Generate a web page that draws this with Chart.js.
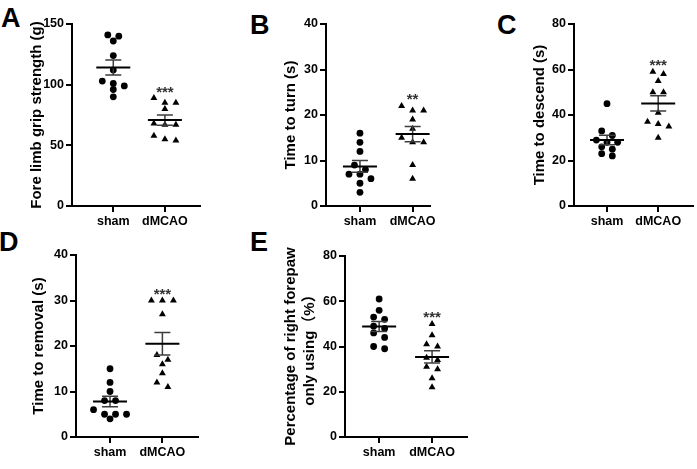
<!DOCTYPE html>
<html>
<head>
<meta charset="utf-8">
<script src="https://cdn.jsdelivr.net/npm/chart.js@4.4.0/dist/chart.umd.min.js"></script>
<style>
  html, body { margin: 0; padding: 0; background: #fff; }
  #figure { position: relative; width: 697px; height: 469px; overflow: hidden; font-family: 'Liberation Sans', Arial, sans-serif; }
  #figure canvas { position: absolute; }
  .letter { position: absolute; font-size: 27px; font-weight: bold; line-height: 27px; color: #000; }
</style>
</head>
<body>
<div id="figure">
  <div class="letter" style="left:1px;top:5px">A</div>
  <div class="letter" style="left:250px;top:12px">B</div>
  <div class="letter" style="left:497px;top:12px">C</div>
  <div class="letter" style="left:-1px;top:229px">D</div>
  <div class="letter" style="left:250px;top:229px">E</div>
  <canvas id="chartA"></canvas>
  <canvas id="chartB"></canvas>
  <canvas id="chartC"></canvas>
  <canvas id="chartD"></canvas>
  <canvas id="chartE"></canvas>
</div>
<script>
const groups = ['sham', 'dMCAO'];

const gripSham = [141, 140, 136, 124, 112, 103, 101, 99, 96, 90];
const gripDmcao = [89, 85, 85, 80, 68, 67, 67, 58, 55, 54];
const gripTicks = [0, 50, 100, 150];

const turnSham = [16, 14, 12, 9, 8, 7, 7, 6, 5, 3];
const turnDmcao = [22, 21, 21, 19, 17, 15, 14, 14, 9, 6];
const turnTicks = [0, 10, 20, 30, 40];

const descendSham = [45, 33, 31, 29, 28, 28, 26, 25, 23, 22];
const descendDmcao = [59, 58, 55, 50, 50, 41, 37, 36, 35, 30];
const descendTicks = [0, 20, 40, 60, 80];

const removalSham = [15, 12, 10, 8, 8, 6, 5, 5, 5, 4];
const removalDmcao = [30, 30, 30, 27, 18, 17, 16, 14, 12, 11];
const removalTicks = [0, 10, 20, 30, 40];

const forepawSham = [61, 56, 53, 52, 49, 48, 46, 44, 40, 39];
const forepawDmcao = [50, 45, 41, 40, 35, 34, 31, 30, 26, 22];
const forepawTicks = [0, 20, 40, 60, 80];

const FONT = "'Liberation Sans', Arial, 'Noto Sans CJK SC', sans-serif";
Chart.defaults.font.family = FONT;
Chart.defaults.color = '#000';

function mean(v) {
  return v.reduce((a, b) => a + b, 0) / v.length;
}
function sem(v) {
  const m = mean(v);
  const sd = Math.sqrt(v.reduce((a, b) => a + (b - m) ** 2, 0) / (v.length - 1));
  return sd / Math.sqrt(v.length);
}

// points at about the same height are spread into a centred row
function swarm(values, center, yPx, xPx) {
  const order = values.map((v, i) => i).sort((a, b) => values[b] - values[a]);
  const rows = [];
  order.forEach(i => {
    const row = rows[rows.length - 1];
    if (row && (values[row[0]] - values[i]) * yPx < 5) row.push(i);
    else rows.push([i]);
  });
  const pts = new Array(values.length);
  rows.forEach(row => {
    row.forEach((i, k) => {
      const dx = (k - (row.length - 1) / 2) * 11;
      pts[i] = { x: center + dx / xPx, y: values[i] };
    });
  });
  return pts;
}

const summaryPlugin = {
  id: 'summary',
  afterDatasetsDraw(chart, args, opts) {
    const { ctx, scales: { x, y } } = chart;
    chart.data.datasets.forEach((ds, di) => {
      const vals = ds.data.map(p => p.y);
      const m = mean(vals);
      const e = sem(vals);
      const cx = x.getPixelForValue(di + 1);
      ctx.save();
      ctx.strokeStyle = '#3c3c3c';
      ctx.lineWidth = 1.5;
      ctx.beginPath();
      ctx.moveTo(cx, y.getPixelForValue(m + e));
      ctx.lineTo(cx, y.getPixelForValue(m - e));
      [m + e, m - e].forEach(v => {
        const py = y.getPixelForValue(v);
        ctx.moveTo(cx - 8, py);
        ctx.lineTo(cx + 8, py);
      });
      ctx.stroke();
      ctx.strokeStyle = '#000';
      ctx.lineWidth = 2;
      ctx.beginPath();
      const my = y.getPixelForValue(m);
      ctx.moveTo(cx - 17, my);
      ctx.lineTo(cx + 17, my);
      ctx.stroke();
      if (di === 1 && opts.stars) {
        ctx.fillStyle = '#333';
        ctx.font = 'bold 15px ' + FONT;
        ctx.textAlign = 'center';
        ctx.textBaseline = 'alphabetic';
        ctx.fillText(opts.stars, cx, y.getPixelForValue(Math.max(...vals)) - 1.5);
      }
      ctx.restore();
    });
  }
};

function makePanel(id, box, plot, xMin, xMax, ticks, title, sham, dmcao, stars) {
  const canvas = document.getElementById(id);
  canvas.width = box.w;
  canvas.height = box.h;
  canvas.style.left = box.x + 'px';
  canvas.style.top = box.y + 'px';
  canvas.style.width = box.w + 'px';
  canvas.style.height = box.h + 'px';
  const yMax = ticks[ticks.length - 1];
  const yPx = (plot.b - plot.t) / yMax;
  const xPx = (plot.r - plot.l) / (xMax - xMin);
  const lineStyle = { display: true, drawOnChartArea: false, drawTicks: true, tickLength: 6, color: '#000', lineWidth: 2 };
  const multi = Array.isArray(title);
  return new Chart(canvas.getContext('2d'), {
    type: 'scatter',
    data: {
      datasets: [
        { data: swarm(sham, 1, yPx, xPx), pointStyle: 'circle', pointRadius: 3.4, backgroundColor: '#000', borderWidth: 0 },
        { data: swarm(dmcao, 2, yPx, xPx), pointStyle: 'triangle', pointRadius: 4, backgroundColor: '#000', borderWidth: 0 }
      ]
    },
    options: {
      responsive: false,
      animation: false,
      events: [],
      layout: { padding: { top: plot.t - box.y, right: box.x + box.w - plot.r, left: 0, bottom: 0 } },
      plugins: { legend: { display: false }, tooltip: { enabled: false }, summary: { stars } },
      scales: {
        x: {
          type: 'linear', min: xMin, max: xMax,
          afterBuildTicks: s => { s.ticks = groups.map((g, i) => ({ value: i + 1 })); },
          afterFit: s => { s.height = box.y + box.h - plot.b; },
          ticks: { callback: v => groups[v - 1], font: { size: 12.5, weight: 'bold' }, color: '#000', padding: 2, maxRotation: 0, autoSkip: false },
          grid: lineStyle,
          border: { display: true, color: '#000', width: 2 }
        },
        y: {
          min: 0, max: yMax,
          afterBuildTicks: s => { s.ticks = ticks.map(v => ({ value: v })); },
          afterFit: s => { s.width = plot.l - box.x; },
          ticks: { font: { size: 12.5, weight: 'bold' }, color: '#000', padding: 2 },
          grid: lineStyle,
          border: { display: true, color: '#000', width: 2 },
          title: { display: true, text: title, color: '#000', padding: { top: 4, bottom: 4 }, font: { size: 15, weight: 'bold', lineHeight: multi ? 1.3 : 1.2 } }
        }
      }
    },
    plugins: [summaryPlugin]
  });
}

makePanel('chartA', { x: 24, y: 0, w: 191, h: 232 }, { l: 72, r: 200, t: 24, b: 206 }, 0.2, 2.68,
  gripTicks, 'Fore limb grip strength (g)', gripSham, gripDmcao, '***');
makePanel('chartB', { x: 278, y: 0, w: 172, h: 232 }, { l: 326, r: 430, t: 24, b: 206 }, 0.355, 2.33,
  turnTicks, 'Time to turn (s)', turnSham, turnDmcao, '**');
makePanel('chartC', { x: 527, y: 0, w: 170, h: 232 }, { l: 574, r: 697, t: 24, b: 206 }, 0.355, 2.68,
  descendTicks, 'Time to descend (s)', descendSham, descendDmcao, '***');
makePanel('chartD', { x: 26, y: 235, w: 187, h: 234 }, { l: 76, r: 198, t: 255, b: 437 }, 0.35, 2.68,
  removalTicks, 'Time to removal (s)', removalSham, removalDmcao, '***');
makePanel('chartE', { x: 277, y: 235, w: 210, h: 234 }, { l: 345, r: 467, t: 256, b: 437 }, 0.355, 2.66,
  forepawTicks, ['Percentage of right forepaw', 'only using（%）'], forepawSham, forepawDmcao, '***');
</script>
</body>
</html>
